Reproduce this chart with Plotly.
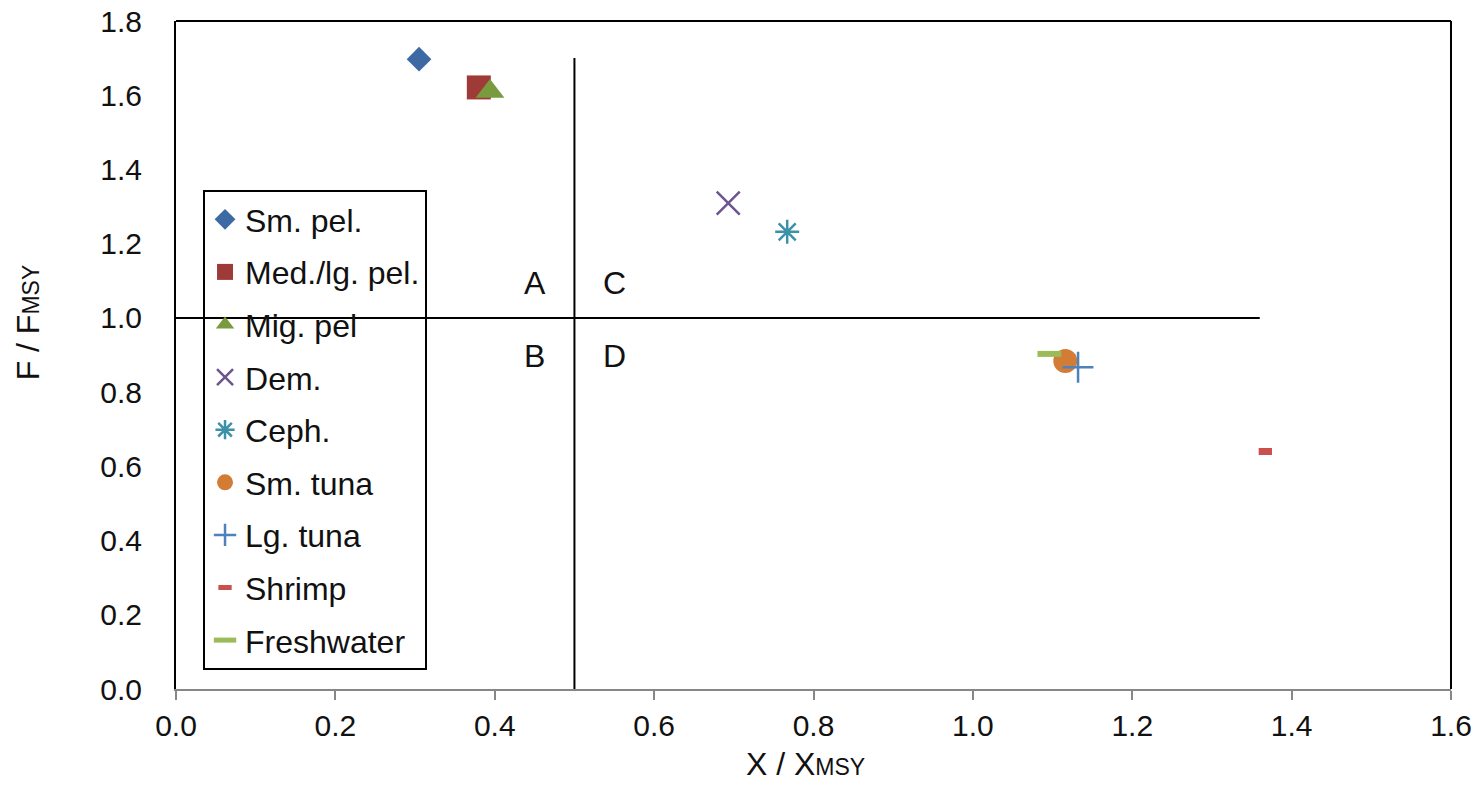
import plotly.graph_objects as go

# Stock status by resource group: biomass ratio vs fishing-mortality ratio
groups = ["Sm. pel.", "Med./lg. pel.", "Mig. pel", "Dem.", "Ceph.",
          "Sm. tuna", "Lg. tuna", "Shrimp", "Freshwater"]
x_ratio = [0.305, 0.380, 0.394, 0.693, 0.767, 1.116, 1.132, 1.367, 1.096]
f_ratio = [1.697, 1.621, 1.610, 1.309, 1.232, 0.884, 0.867, 0.640, 0.903]

colors = ["#3D6AA2", "#9E3A37", "#7A9A3E", "#6C548E", "#3B91A8",
          "#D37C35", "#4F81BD", "#C9504D", "#9BBB59"]
symbols = ["diamond", "square", "triangle-up", "x-thin-open", "asterisk-open",
           "circle", "cross-thin-open", "line-ew-open", "line-ew-open"]
sizes = [19, 24, 25, 23, 20, 24, 22, 9.5, 17]
line_widths = [0, 0, 0, 2.5, 2.5, 0, 2.5, 7, 6]

# Reference lines splitting the quadrants
x_split = 0.5
x_split_top = 1.7
f_split = 1.0
f_split_right = 1.36

quad_labels = ["A", "C", "B", "D"]
quad_x = [0.45, 0.55, 0.45, 0.55]
quad_y = [1.095, 1.095, 0.896, 0.896]

FONT = "Liberation Sans, Arial, sans-serif"
TXT = "#111111"

fig = go.Figure()

for i, name in enumerate(groups):
    open_sym = symbols[i].endswith("-open")
    marker = dict(symbol=symbols[i], size=sizes[i], color=colors[i])
    if open_sym:
        marker["line"] = dict(color=colors[i], width=line_widths[i])
    else:
        marker["line"] = dict(width=0)
    fig.add_trace(go.Scatter(
        x=[x_ratio[i]], y=[f_ratio[i]], mode="markers", name=name,
        legendgroup=name, marker=marker,
    ))

shapes = [
    dict(type="line", xref="x", yref="y", x0=x_split, x1=x_split,
         y0=0, y1=x_split_top, line=dict(color="black", width=2)),
    dict(type="line", xref="x", yref="y", x0=0, x1=f_split_right,
         y0=f_split, y1=f_split, line=dict(color="black", width=2)),
    # frame on top and right sides of the plot area
    dict(type="line", xref="paper", yref="paper", x0=0, x1=1, y0=1, y1=1,
         line=dict(color="black", width=2)),
    dict(type="line", xref="paper", yref="paper", x0=1, x1=1, y0=0, y1=1,
         line=dict(color="black", width=2)),
]

annotations = [
    dict(x=qx, y=qy, xref="x", yref="y", text=t, showarrow=False,
         font=dict(family=FONT, size=32, color=TXT))
    for t, qx, qy in zip(quad_labels, quad_x, quad_y)
]
annotations.append(dict(
    x=0.494, y=-0.1425, xref="paper", yref="paper", xanchor="center", yanchor="bottom",
    text="X / X<span style='font-size:23px'>MSY</span>", showarrow=False,
    font=dict(family=FONT, size=32, color=TXT)))
annotations.append(dict(
    x=-0.116, y=0.549, xref="paper", yref="paper", xanchor="center", yanchor="middle",
    text="F / F<span style='font-size:23px'>MSY</span>", showarrow=False, textangle=-90,
    font=dict(family=FONT, size=32, color=TXT)))

fig.update_layout(
    width=1480, height=785,
    margin=dict(l=176, r=29, t=21, b=96),
    paper_bgcolor="white", plot_bgcolor="white",
    font=dict(family=FONT, size=30, color=TXT),
    shapes=shapes, annotations=annotations,
    showlegend=True,
    legend=dict(
        x=0.0212, y=0.747, xanchor="left", yanchor="top",
        bgcolor="rgba(0,0,0,0)", bordercolor="black", borderwidth=2,
        font=dict(family=FONT, size=32, color=TXT),
        tracegroupgap=8, itemsizing="trace",
    ),
    xaxis=dict(
        range=[0, 1.6], dtick=0.2, tick0=0, tickformat=".1f",
        showgrid=False, zeroline=False, automargin=False,
        showline=True, linecolor="#878787", linewidth=2,
        ticks="outside", ticklen=9, tickwidth=2, tickcolor="#878787",
        tickfont=dict(family=FONT, size=30, color=TXT),
    ),
    yaxis=dict(
        range=[0, 1.8], dtick=0.2, tick0=0, tickformat=".1f",
        showgrid=False, zeroline=False, automargin=False,
        showline=True, linecolor="black", linewidth=2,
        ticks="", ticklabelstandoff=26,
        tickfont=dict(family=FONT, size=30, color=TXT),
    ),
)

fig.write_html("out.html")
